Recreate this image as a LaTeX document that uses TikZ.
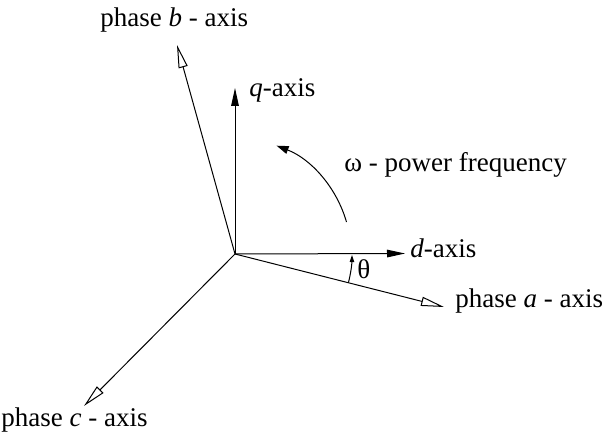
\documentclass[tikz,border=0pt]{standalone}
\usepackage{fontspec}
\setmainfont{Liberation Serif}
\usetikzlibrary{arrows.meta,calc}
\begin{document}
\begin{tikzpicture}[x=0.5pt,y=-0.5pt,
  ax/.style={line width=0.5pt},
  openhead/.style={ax,-{Triangle[open,length=11.5pt,width=4.6pt,line width=0.5pt]}},
  fillhead/.style={ax,-{Triangle[length=9pt,width=3.8pt]}},
  lbl/.style={inner sep=0pt,anchor=base west,font=\fontsize{13.5}{16}\selectfont}]
\useasboundingbox (0,0) rectangle (606,437);
\coordinate (O) at (235,254);
\coordinate (Atip) at (444,307);
\coordinate (Btip) at (177,45);
\coordinate (Ctip) at (84,406);
\coordinate (Dtip) at (405,253.5);
\coordinate (Qtip) at (235,88);
\draw[fillhead] (O) -- (Dtip);
\draw[fillhead] (O) -- (Qtip);
\draw[openhead] (O) -- (Atip);
\draw[openhead] (O) -- (Btip);
\draw[openhead] (O) -- (Ctip);
% theta arc
\coordinate (ts) at ($(O)+(14.23:117)$);
\draw[ax,-{Triangle[length=3.5pt,width=2.2pt]}] (ts) arc[start angle=-14.23,end angle=-0.5,radius=58.5pt];
% omega arc
\coordinate (ws) at ($(O)+(-16:116)$);
\draw[ax,-{Triangle[length=6pt,width=4pt]}] (ws) arc[start angle=16,end angle=69,radius=58pt];
\node[lbl] (lb) at (100,27) {phase \textit{b} - axis};
\node[lbl] (lq) at (249,97) {\textit{q}-axis};
\node[lbl] (lw) at (344,172) {ω - power frequency};
\node[lbl] (ld) at (410,258) {\textit{d}-axis};
\node[lbl] (lt) at (357,279) {θ};
\node[lbl] (la) at (455,308) {phase \textit{a} - axis};
\node[lbl] (lc) at (1,427) {phase \textit{c} - axis};
\end{tikzpicture}
\end{document}
